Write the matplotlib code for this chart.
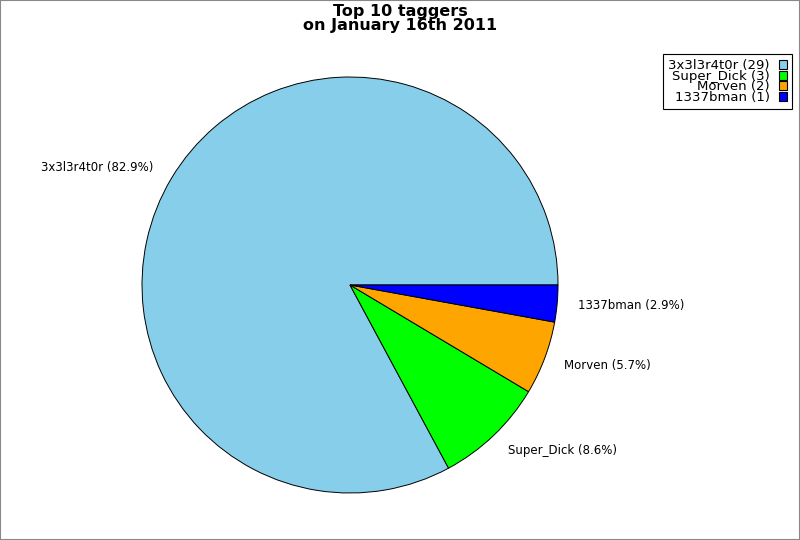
import matplotlib
matplotlib.use("Agg")
import matplotlib.pyplot as plt
from matplotlib.patches import Patch, Rectangle

# top taggers data
taggers = ["3x3l3r4t0r", "Super_Dick", "Morven", "1337bman"]
counts = [29, 3, 2, 1]
colors = ["#87ceeb", "#00ff00", "#ffa500", "#0000ff"]

total = sum(counts)
pie_labels = ["{} ({:.1f}%)".format(t, 100.0 * c / total) for t, c in zip(taggers, counts)]
legend_labels = ["{} ({})".format(t, c) for t, c in zip(taggers, counts)]

fig = plt.figure(figsize=(8, 5.4), dpi=100)
ax = fig.add_axes([0, 0, 1, 1])
ax.pie(counts, labels=pie_labels, colors=colors, startangle=0, counterclock=True,
       wedgeprops={"edgecolor": "black", "linewidth": 0.7},
       textprops={"fontsize": 8.5}, labeldistance=1.1)
# put the pie centre where the reference has it (350, 285 px), radius 208 px
r = 208.0
ax.set_xlim(-350 / r, 450 / r)
ax.set_ylim(-255 / r, 285 / r)
ax.set_aspect("auto")
ax.axis("off")

fig.text(0.5, 1 - 4 / 540, "Top 10 taggers\non January 16th 2011", ha="center", va="top",
         fontsize=11.5, fontweight="bold", linespacing=0.9)

handles = [Patch(facecolor=c, edgecolor="black", linewidth=0.8) for c in colors]
leg = fig.legend(handles, legend_labels, loc="upper right", bbox_to_anchor=(792 / 800, 1 - 54 / 540),
                 borderaxespad=0, markerfirst=False, fontsize=9.5, labelspacing=-0.19,
                 handlelength=0.6, handleheight=0.65, handletextpad=0.7, borderpad=0.4,
                 fancybox=False, framealpha=1)
leg.get_frame().set_edgecolor("black")
leg.get_frame().set_linewidth(0.8)

fig.patches.append(Rectangle((0, 0), 1, 1, transform=fig.transFigure, fill=False,
                             edgecolor="#888888", linewidth=1.5))

fig.savefig("out.png", dpi=100)
